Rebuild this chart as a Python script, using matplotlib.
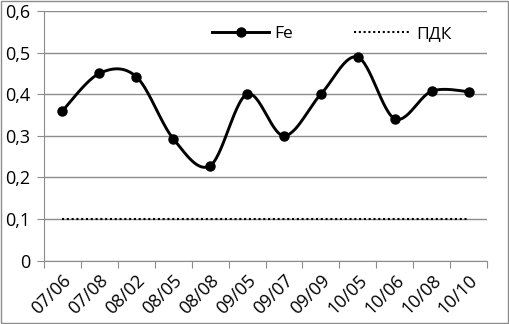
import numpy as np
import matplotlib
matplotlib.use("Agg")
import matplotlib.pyplot as plt
from matplotlib.lines import Line2D
from matplotlib.patches import Rectangle

categories = ["07/06", "07/08", "08/02", "08/05", "08/08", "09/05",
              "09/07", "09/09", "10/05", "10/06", "10/08", "10/10"]
fe_values = [0.36, 0.45, 0.442, 0.293, 0.228, 0.40, 0.30, 0.40, 0.489, 0.341, 0.407, 0.406]
pdk_values = [0.1] * len(categories)
y_ticks = [0, 0.1, 0.2, 0.3, 0.4, 0.5, 0.6]
y_labels = ["0", "0,1", "0,2", "0,3", "0,4", "0,5", "0,6"]

plt.rcParams['font.family'] = ['Open Sans', 'DejaVu Sans']

def smooth(x, y, n=30):
    x = np.asarray(x, float); y = np.asarray(y, float)
    xs, ys = [], []
    for i in range(len(x) - 1):
        p0 = (x[i - 1], y[i - 1]) if i > 0 else (x[i], y[i])
        p1 = (x[i], y[i]); p2 = (x[i + 1], y[i + 1])
        p3 = (x[i + 2], y[i + 2]) if i + 2 < len(x) else (x[i + 1], y[i + 1])
        c1 = (p1[0] + (p2[0] - p0[0]) / 6, p1[1] + (p2[1] - p0[1]) / 6)
        c2 = (p2[0] - (p3[0] - p1[0]) / 6, p2[1] - (p3[1] - p1[1]) / 6)
        t = np.linspace(0, 1, n)
        bx = (1-t)**3*p1[0] + 3*(1-t)**2*t*c1[0] + 3*(1-t)*t**2*c2[0] + t**3*p2[0]
        by = (1-t)**3*p1[1] + 3*(1-t)**2*t*c1[1] + 3*(1-t)*t**2*c2[1] + t**3*p2[1]
        xs.extend(bx); ys.extend(by)
    return np.array(xs), np.array(ys)

FS = 13
LFS = 12.5
DOT = (0, (1, 1.3))

fig = plt.figure(figsize=(5.09, 3.24), dpi=100)
fig.patches.append(Rectangle((0.001, 0.002), 0.997, 0.995, transform=fig.transFigure,
                             fill=False, edgecolor="#8c8c8c", linewidth=1))
ax = fig.add_axes([44/509, 1 - 260.5/324, 443/509, 249.5/324])

x = np.arange(len(categories))
sx, sy = smooth(x, fe_values)
ax.plot(sx, sy, color="black", linewidth=2.1, zorder=3)
ax.plot(x, fe_values, 'o', color="black", markersize=6.5, zorder=4)
ax.plot(x, pdk_values, color="black", linestyle=DOT, linewidth=1.5, zorder=3)

ax.set_xlim(-0.5, len(categories) - 0.5)
ax.set_ylim(0, 0.6)
ax.set_yticks(y_ticks)
ax.set_yticklabels(y_labels, fontsize=FS)
ax.yaxis.grid(True, color="#8c8c8c", linewidth=1)
ax.set_axisbelow(True)

ax.set_xticks(np.arange(len(categories) + 1) - 0.5, minor=False)
ax.set_xticklabels([])
ax.set_xticks(x, minor=True)
ax.set_xticklabels(categories, minor=True, rotation=45, ha='right',
                   rotation_mode='anchor', fontsize=FS)
ax.tick_params(axis='x', which='minor', length=0, pad=8)
ax.tick_params(axis='x', which='major', length=5, color="#8c8c8c")
ax.tick_params(axis='y', length=5, color="#8c8c8c", pad=5)

for s in ["top", "right"]:
    ax.spines[s].set_visible(False)
for s in ["left", "bottom"]:
    ax.spines[s].set_color("#8c8c8c")

handles = [Line2D([], [], color="black", linewidth=2.1, marker='o', markersize=6.5),
           Line2D([], [], color="black", linestyle=DOT, linewidth=1.5)]
ax.legend(handles, ["Fe", "ПДК"], ncol=2, frameon=False, fontsize=LFS,
          loc='center left', bbox_to_anchor=((212 - 44) / 443, (260.5 - 34) / 249.5),
          borderpad=0, borderaxespad=0, handlelength=3.3,
          columnspacing=3.5, handletextpad=0.3)

fig.savefig("out.png", dpi=100)
